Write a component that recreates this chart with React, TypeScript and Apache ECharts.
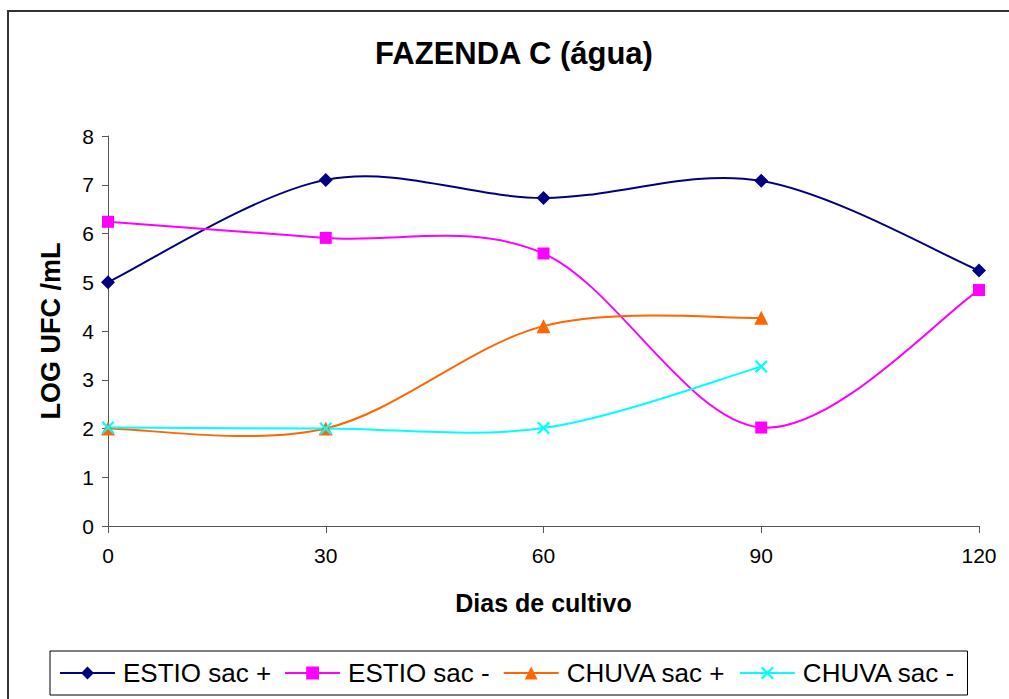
import React, { useEffect, useRef } from "react";
import * as echarts from "echarts";

const days = [0, 30, 60, 90, 120];
const estioPos = [5.0, 7.1, 6.73, 7.08, 5.24];
const estioNeg = [6.24, 5.91, 5.59, 2.02, 4.84];
const chuvaPos = [2.0, 2.0, 4.1, 4.27];
const chuvaNeg = [2.02, 2.0, 2.01, 3.27];

const seriesNames = ["ESTIO sac +", "ESTIO sac -", "CHUVA sac +", "CHUVA sac -"];
const seriesColors = ["#000080", "#FF00FF", "#FF6600", "#00FFFF"];
const yTicks = [0, 1, 2, 3, 4, 5, 6, 7, 8];

const FONT = "'Liberation Sans', Arial, Helvetica, sans-serif";
const X_SYMBOL =
  "path://M0,1.2L1.2,0L5,3.8L8.8,0L10,1.2L6.2,5L10,8.8L8.8,10L5,6.2L1.2,10L0,8.8L3.8,5Z";

const pairs = (vals: number[]) => vals.map((v, i) => [days[i], v]);

// Excel-like smoothed curve (Catmull-Rom, tension 1/6) in pixel space via the axes' scales
function makeCurveRenderer(vals: number[], color: string) {
  return (params: any, api: any) => {
    if (params.dataIndex !== 0) return { type: "group", children: [] };
    const pts = pairs(vals).map((p) => api.coord(p) as number[]);
    let d = `M${pts[0][0]},${pts[0][1]}`;
    for (let i = 0; i < pts.length - 1; i++) {
      const p0 = pts[i - 1] || pts[i];
      const p1 = pts[i];
      const p2 = pts[i + 1];
      const p3 = pts[i + 2] || pts[i + 1];
      const c1x = p1[0] + (p2[0] - p0[0]) / 6;
      const c1y = p1[1] + (p2[1] - p0[1]) / 6;
      const c2x = p2[0] - (p3[0] - p1[0]) / 6;
      const c2y = p2[1] - (p3[1] - p1[1]) / 6;
      d += ` C${c1x},${c1y} ${c2x},${c2y} ${p2[0]},${p2[1]}`;
    }
    return {
      type: "path",
      shape: { pathData: d },
      style: { fill: "none", stroke: color, lineWidth: 2 },
    };
  };
}

export default function App() {
  const ref = useRef<HTMLDivElement>(null);
  useEffect(() => {
    if (!ref.current) return;
    const chart = echarts.init(ref.current, undefined, { renderer: "svg" });
    const allData = [estioPos, estioNeg, chuvaPos, chuvaNeg];
    const symbols = ["diamond", "rect", "triangle", X_SYMBOL];
    const sizes = [14, 12, 14, 13];
    const curves = allData.map((vals, i) => ({
      name: seriesNames[i] + " (curva)",
      type: "custom",
      data: pairs(vals),
      renderItem: makeCurveRenderer(vals, seriesColors[i]),
      z: 2,
      silent: true,
      clip: false,
    }));
    const markers = allData.map((vals, i) => ({
      name: seriesNames[i],
      type: "line",
      data: pairs(vals),
      symbol: symbols[i],
      symbolSize: sizes[i],
      showAllSymbol: true,
      z: 3,
      lineStyle: { color: seriesColors[i], width: 2, opacity: 0 },
      itemStyle: { color: seriesColors[i], borderWidth: 0 },
      emphasis: { disabled: true },
    }));
    chart.setOption({
      animation: false,
      backgroundColor: "#ffffff",
      title: {
        text: "FAZENDA C (água)",
        left: 509,
        top: 33,
        textAlign: "center",
        textStyle: { fontFamily: FONT, fontSize: 31, fontWeight: "bold", color: "#000" },
      },
      graphic: [
        {
          type: "rect",
          z: -10,
          shape: { x: 8, y: 11, width: 1100, height: 800 },
          style: { fill: "none", stroke: "#333333", lineWidth: 2 },
        },
      ],
      legend: {
        left: 50,
        top: 651,
        padding: [9, 12, 9, 9],
        itemWidth: 55,
        itemHeight: 16,
        itemGap: 13,
        borderColor: "#000",
        borderWidth: 1,
        backgroundColor: "#fff",
        textStyle: { fontFamily: FONT, fontSize: 26, color: "#000", padding: [0, 0, 0, 3] },
        data: seriesNames.map((n, i) => ({
          name: n,
          lineStyle: { color: seriesColors[i], width: 2, opacity: 1 },
        })),
      },
      grid: { left: 108, right: 30, top: 136, bottom: 173, containLabel: false },
      xAxis: {
        type: "value",
        min: 0,
        max: 120,
        interval: 30,
        name: "Dias de cultivo",
        nameLocation: "middle",
        nameGap: 64,
        nameTextStyle: { fontFamily: FONT, fontSize: 25, fontWeight: "bold", color: "#000" },
        axisLine: { show: true, lineStyle: { color: "#555", width: 1 } },
        axisTick: { show: true, length: 7, lineStyle: { color: "#555" } },
        axisLabel: { fontFamily: FONT, fontSize: 21, color: "#000", margin: 19 },
        splitLine: { show: false },
      },
      yAxis: {
        type: "value",
        min: yTicks[0],
        max: yTicks[yTicks.length - 1],
        interval: 1,
        name: "LOG UFC /mL",
        nameLocation: "middle",
        nameGap: 44,
        nameRotate: 90,
        nameTextStyle: { fontFamily: FONT, fontSize: 27, fontWeight: "bold", color: "#000" },
        axisLine: { show: true, lineStyle: { color: "#555", width: 1 } },
        axisTick: { show: true, length: 6, lineStyle: { color: "#555" } },
        axisLabel: { fontFamily: FONT, fontSize: 21, color: "#000", margin: 14 },
        splitLine: { show: false },
      },
      series: [...curves, ...markers],
    });
    return () => chart.dispose();
  }, []);
  return (
    <div
      ref={ref}
      style={{ position: "fixed", left: 0, top: 0, width: 1009, height: 699, background: "#fff" }}
    />
  );
}
